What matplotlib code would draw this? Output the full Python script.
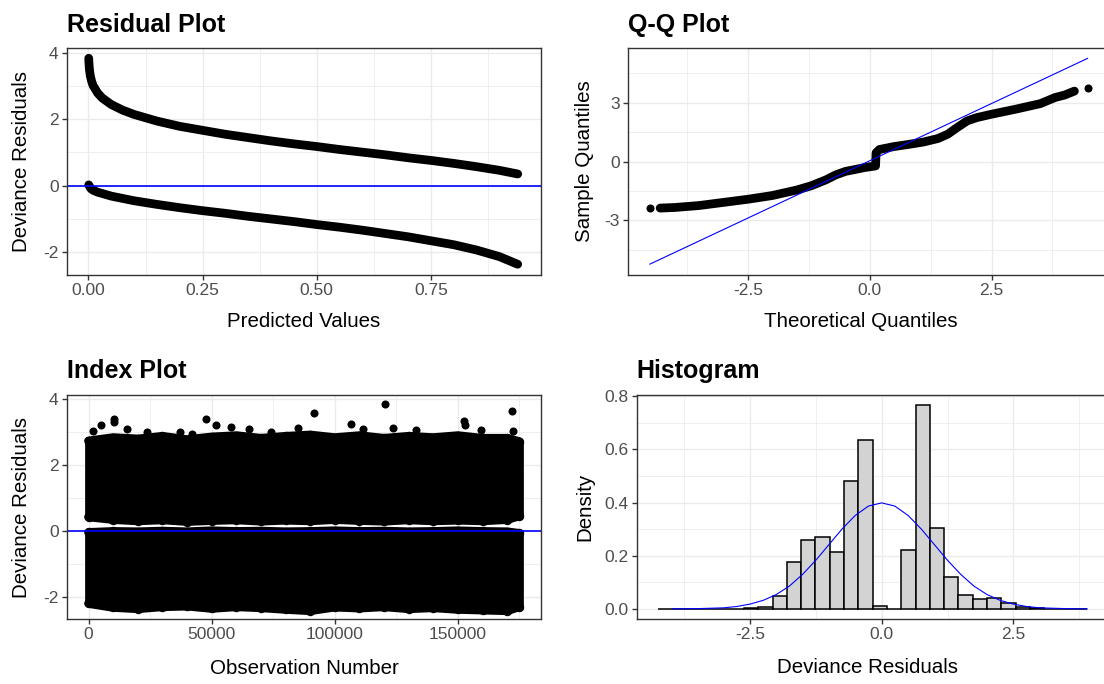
import matplotlib
matplotlib.use("Agg")
import matplotlib.pyplot as plt

plt.rcParams["font.family"] = ["Liberation Sans", "DejaVu Sans"]

W, H = 1104, 684

# residuals vs fitted probability (two branches: y=1 above, y=0 below)
res_fit_hi = [0.0006, 0.001, 0.002, 0.004, 0.007, 0.01, 0.02, 0.03, 0.05, 0.075, 0.1, 0.15,
              0.2, 0.25, 0.3, 0.35, 0.4, 0.45, 0.5, 0.55, 0.6, 0.65, 0.7, 0.75, 0.8, 0.85, 0.9, 0.94]
res_dev_hi = [3.85, 3.72, 3.53, 3.32, 3.15, 3.03, 2.80, 2.65, 2.45, 2.28, 2.15, 1.95,
              1.79, 1.67, 1.55, 1.45, 1.35, 1.26, 1.18, 1.09, 1.01, 0.93, 0.84, 0.76, 0.67, 0.57, 0.46, 0.35]
res_fit_lo = [0.0006, 0.005, 0.01, 0.02, 0.05, 0.1, 0.15, 0.2, 0.25, 0.3, 0.35, 0.4, 0.45,
              0.5, 0.55, 0.6, 0.65, 0.7, 0.75, 0.8, 0.85, 0.9, 0.94]
res_dev_lo = [0.02, -0.09, -0.14, -0.20, -0.32, -0.46, -0.57, -0.67, -0.76, -0.84, -0.93, -1.01, -1.09,
              -1.18, -1.26, -1.35, -1.45, -1.55, -1.67, -1.79, -1.95, -2.15, -2.38]

# normal Q-Q
qq_theo = [-4.30, -4.0, -3.5, -3.0, -2.5, -2.0, -1.5, -1.2, -0.9, -0.7, -0.5, -0.3, -0.1, 0.12,
           0.13, 0.2, 0.5, 0.8, 1.1, 1.4, 1.6, 1.8, 2.0, 2.2, 2.5, 3.0, 3.5, 3.8, 4.0, 4.2]
qq_samp = [-2.37, -2.34, -2.24, -2.08, -1.92, -1.73, -1.45, -1.23, -0.93, -0.68, -0.50, -0.40, -0.30, -0.22,
           0.45, 0.62, 0.77, 0.88, 1.00, 1.18, 1.40, 1.75, 2.08, 2.25, 2.42, 2.68, 2.96, 3.27, 3.40, 3.60]
qq_tail_x = [-4.51, 4.47]
qq_tail_y = [-2.38, 3.78]
qq_line_x = [-4.51, 4.47]
qq_line_y = [-5.23, 5.27]

# index plot: extent of the two dense bands along the observation axis
idx_pos = [0, 10000, 20000, 30000, 40000, 50000, 60000, 70000, 80000, 90000,
           100000, 110000, 120000, 130000, 140000, 150000, 160000, 170000, 175000]
hi_top = [2.72, 2.82, 2.78, 2.86, 2.76, 2.84, 2.88, 2.80, 2.86, 2.90,
          2.82, 2.88, 2.80, 2.86, 2.82, 2.88, 2.80, 2.80, 2.70]
hi_bot = [0.42, 0.34, 0.30, 0.33, 0.28, 0.31, 0.33, 0.29, 0.32, 0.30,
          0.34, 0.31, 0.29, 0.33, 0.30, 0.32, 0.30, 0.34, 0.45]
lo_top = [-0.05, -0.02, -0.03, -0.01, -0.03, 0.0, -0.02, -0.01, -0.03, -0.02,
          0.0, -0.02, -0.01, -0.03, -0.02, 0.0, -0.02, -0.03, -0.08]
lo_bot = [-2.20, -2.32, -2.36, -2.30, -2.28, -2.35, -2.30, -2.33, -2.38, -2.42,
          -2.31, -2.34, -2.30, -2.36, -2.33, -2.38, -2.40, -2.42, -2.30]
out_x = [1800, 5200, 10400, 10500, 15800, 23600, 37300, 42000, 47700, 51800, 57800, 65000,
         74200, 85000, 91500, 106500, 111500, 120500, 123500, 133000, 152500, 152700, 159500,
         172000, 172500]
out_y = [3.01, 3.19, 3.37, 3.30, 3.08, 2.98, 2.98, 2.93, 3.37, 3.19, 3.14, 3.08,
         2.98, 3.12, 3.57, 3.24, 3.08, 3.85, 3.11, 3.06, 3.32, 3.21, 3.05,
         3.64, 3.03]

# histogram (density scale) and the fitted normal curve
bin_edges = [-4.24, -3.969, -3.697, -3.426, -3.155, -2.884, -2.612, -2.341, -2.07, -1.798,
             -1.527, -1.256, -0.984, -0.713, -0.442, -0.171, 0.101, 0.372, 0.643, 0.915,
             1.186, 1.457, 1.729, 2.0, 2.271, 2.542, 2.814, 3.085, 3.356, 3.627, 3.899]
bin_density = [0.0, 0.0, 0.0, 0.0, 0.001, 0.001, 0.002, 0.006, 0.048, 0.175,
               0.259, 0.271, 0.216, 0.481, 0.637, 0.012, 0.0, 0.223, 0.768, 0.306,
               0.121, 0.054, 0.036, 0.041, 0.022, 0.006, 0.003, 0.0, 0.0, 0.0]
norm_x = [-3.97, -3.5, -3.0, -2.75, -2.5, -2.25, -2.0, -1.75, -1.5, -1.25, -1.0, -0.75, -0.5,
          -0.25, 0.0, 0.25, 0.5, 0.75, 1.0, 1.25, 1.5, 1.75, 2.0, 2.25, 2.5, 2.75, 3.0, 3.5, 3.9]
norm_y = [0.0002, 0.001, 0.004, 0.009, 0.018, 0.032, 0.054, 0.086, 0.130, 0.183, 0.242, 0.301, 0.352,
          0.387, 0.399, 0.387, 0.352, 0.301, 0.242, 0.183, 0.130, 0.086, 0.054, 0.032, 0.018, 0.009,
          0.004, 0.001, 0.0002]

GRID = "#EBEBEB"
BAND_LW = 6.3   # thickness of a run of overlapping points
DOT = 5.8       # single point diameter


def add_panel(fig, left, top, right, bottom):
    ax = fig.add_axes([left / W, 1 - bottom / H, (right - left) / W, (bottom - top) / H])
    ax.set_facecolor("white")
    for s in ax.spines.values():
        s.set_color("#333333")
        s.set_linewidth(1.0)
    ax.tick_params(axis="both", which="major", length=3.6, width=1.0, color="#333333",
                   labelcolor="#4D4D4D", labelsize=12.5, pad=2.5)
    ax.tick_params(axis="both", which="minor", length=0)
    ax.set_axisbelow(True)
    return ax


def set_grid(ax, xmaj, xmin, ymaj, ymin, xfmt, yfmt):
    ax.set_xticks(xmaj, [xfmt(v) for v in xmaj])
    ax.set_yticks(ymaj, [yfmt(v) for v in ymaj])
    ax.set_xticks(xmin, minor=True)
    ax.set_yticks(ymin, minor=True)
    ax.grid(True, which="major", color=GRID, lw=1.0)
    ax.grid(True, which="minor", color=GRID, lw=0.55)


def band(ax, x, y):
    ax.plot(x, y, color="black", lw=BAND_LW, solid_capstyle="round", solid_joinstyle="round")


def titles(fig, ax_left, top_px, title, xlab, xlab_base, ylab, ylab_x, panel_mid):
    fig.text(ax_left / W, 1 - top_px / H, title, fontsize=18, fontweight="bold",
             ha="left", va="baseline")
    fig.text(panel_mid[0] / W, 1 - xlab_base / H, xlab, fontsize=14.8, ha="center", va="baseline")
    fig.text(ylab_x / W, 1 - panel_mid[1] / H, ylab, fontsize=14.8, rotation=90,
             ha="center", va="center")


fig = plt.figure(figsize=(W / 100, H / 100), dpi=100)
fig.patch.set_facecolor("white")

# --- Residual Plot
ax1 = add_panel(fig, 67, 48, 541, 274.5)
band(ax1, res_fit_hi, res_dev_hi)
band(ax1, res_fit_lo, res_dev_lo)
ax1.axhline(0, color="blue", lw=1.2)
set_grid(ax1, [0, 0.25, 0.5, 0.75], [0.125, 0.375, 0.625, 0.875], [-2, 0, 2, 4], [-1, 1, 3],
         lambda v: f"{v:.2f}", lambda v: f"{v:d}")
ax1.set_xlim(-0.047, 0.991)
ax1.set_ylim(-2.69, 4.16)
titles(fig, 67, 32, "Residual Plot", "Predicted Values", 327, "Deviance Residuals", 22,
       ((67 + 541) / 2, (48 + 274.5) / 2))

# --- Q-Q Plot
ax2 = add_panel(fig, 628, 48, 1109.5, 274.5)
band(ax2, qq_theo, qq_samp)
ax2.plot(qq_tail_x, qq_tail_y, "o", color="black", ms=DOT, mew=0)
ax2.plot(qq_line_x, qq_line_y, color="blue", lw=0.8)
set_grid(ax2, [-2.5, 0, 2.5], [-3.75, -1.25, 1.25, 3.75], [-3, 0, 3], [-4.5, -1.5, 1.5, 4.5],
         lambda v: f"{v:.1f}", lambda v: f"{v:d}")
ax2.set_xlim(-4.96, 4.92)
ax2.set_ylim(-5.76, 5.80)
titles(fig, 628, 32, "Q-Q Plot", "Theoretical Quantiles", 327, "Sample Quantiles", 584,
       ((628 + 1109.5) / 2 - 8, (48 + 274.5) / 2))

# --- Index Plot
ax3 = add_panel(fig, 67, 395, 541, 619)
for top, bot in ((hi_top, hi_bot), (lo_top, lo_bot)):
    ax3.fill_between(idx_pos, bot, top, color="black", lw=0)
    band(ax3, idx_pos, top)
    band(ax3, idx_pos, bot)
    ax3.plot(idx_pos, top, "o", color="black", ms=DOT + 1, mew=0)
    ax3.plot(idx_pos, bot, "o", color="black", ms=DOT + 1, mew=0)
    band(ax3, [idx_pos[0], idx_pos[0]], [bot[0], top[0]])
    band(ax3, [idx_pos[-1], idx_pos[-1]], [bot[-1], top[-1]])
ax3.plot(out_x, out_y, "o", color="black", ms=DOT, mew=0)
ax3.axhline(0, color="blue", lw=1.2)
set_grid(ax3, [0, 50000, 100000, 150000], [25000, 75000, 125000, 175000], [-2, 0, 2, 4],
         [-1, 1, 3], lambda v: f"{v:d}", lambda v: f"{v:d}")
ax3.set_xlim(-8750, 183750)
ax3.set_ylim(-2.67, 4.11)
titles(fig, 67, 378, "Index Plot", "Observation Number", 674, "Deviance Residuals", 22,
       ((67 + 541) / 2, (395 + 619) / 2))

# --- Histogram
ax4 = add_panel(fig, 636.6, 395, 1108.8, 619)
widths = [b - a for a, b in zip(bin_edges[:-1], bin_edges[1:])]
ax4.bar(bin_edges[:-1], bin_density, width=widths, align="edge", color="#D3D3D3",
        edgecolor="black", linewidth=1.1)
ax4.plot(norm_x, norm_y, color="blue", lw=0.8)
set_grid(ax4, [-2.5, 0, 2.5], [-3.75, -1.25, 1.25, 3.75], [0, 0.2, 0.4, 0.6, 0.8],
         [0.1, 0.3, 0.5, 0.7], lambda v: f"{v:.1f}", lambda v: f"{v:.1f}")
ax4.set_xlim(-4.65, 4.31)
ax4.set_ylim(-0.038, 0.805)
titles(fig, 636.6, 378, "Histogram", "Deviance Residuals", 673, "Density", 585,
       ((636.6 + 1108.8) / 2 - 5, (395 + 619) / 2))

fig.savefig("out.png", dpi=100, facecolor="white")
